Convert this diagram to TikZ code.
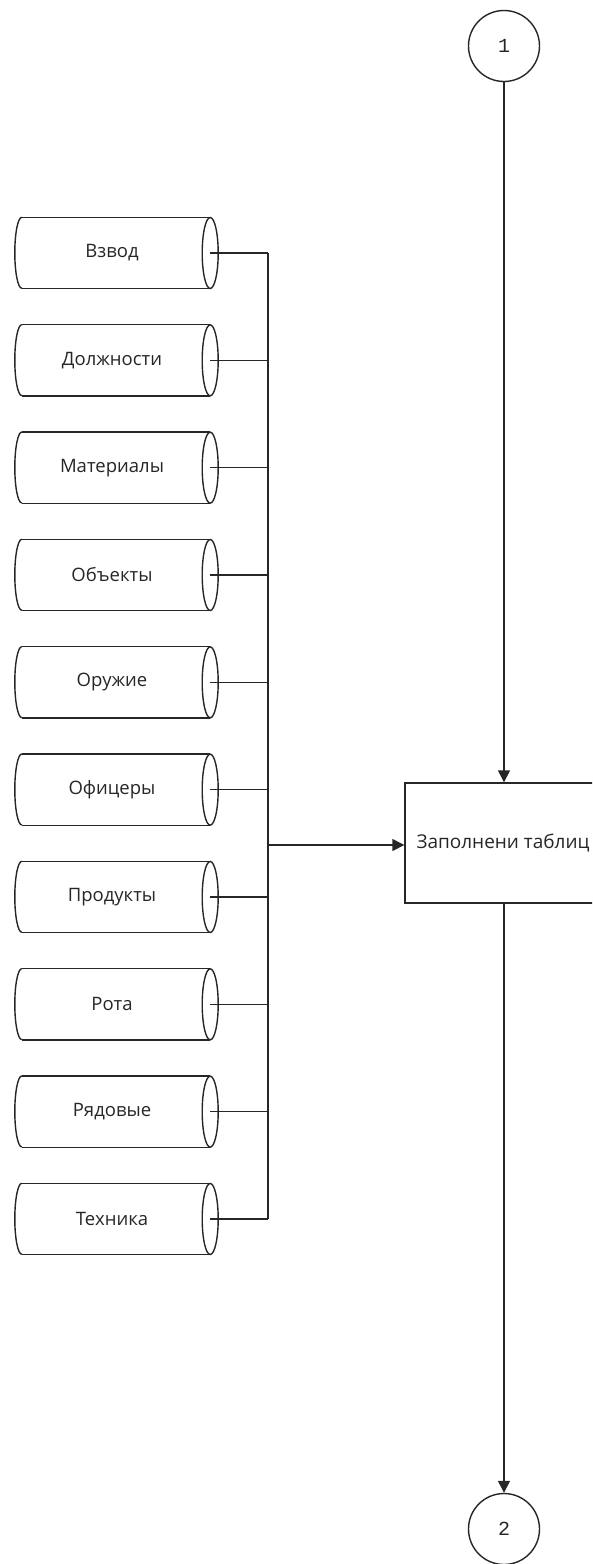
\documentclass[tikz,border=0pt]{standalone}
\usepackage{fontspec}
\setmainfont{Open Sans}
\newfontfamily\digitfont{Liberation Mono}
\usetikzlibrary{arrows.meta}
\begin{document}
\begin{tikzpicture}[x=1pt,y=-1pt,
  line/.style={draw=black!85,line width=1.4pt},
  flow/.style={line,-{Triangle[length=12pt,width=12pt]}},
  store/.style={minimum width=188pt,minimum height=71pt,inner sep=0pt,font=\fontsize{18.5}{22}\selectfont,text=black!85},
  procbox/.style={line,minimum width=195pt,minimum height=120pt,inner sep=0pt},
  conn/.style={line,circle,minimum size=71pt,inner sep=0pt,font=\digitfont\fontsize{20}{22}\selectfont,text=black!85}]
\useasboundingbox (0,0) rectangle (592,1564);
\clip (0,0) rectangle (592,1564);

% data stores
\foreach \i/\t [evaluate=\i as \y using 253+107.33*(\i-1)] in
  {1/Взвод,2/Должности,3/Материалы,4/Объекты,5/Оружие,6/Офицеры,7/Продукты,8/Рота,9/Рядовые,10/Техника}
  \node[store] (c\i) at (116,\y) {\hspace*{-8pt}\t};

\foreach \i in {1,...,10} {
  \draw[line] (c\i.north west) -- (c\i.north east) (c\i.south west) -- (c\i.south east);
  \draw[line] (c\i.north west) arc[start angle=90,end angle=270,x radius=7pt,y radius=35.5pt];
  \draw[line] (c\i.east) ellipse[x radius=8pt,y radius=35.5pt];
}

% process and connectors
\node[procbox] (box) at (502.5,843) {};
\node[anchor=west,font=\fontsize{19}{22}\selectfont,text=black!85,inner sep=0pt] (boxtext) at ([xshift=12pt]box.west) {Заполнени таблиц};
\node[conn] (k1) at (504,46) {1};
\node[conn] (k2) at (504,1529) {2};

\coordinate (bus) at (268,845);
\foreach \i in {1,...,10}
  \draw[line] (c\i.east) -- (c\i.east -| bus);
\draw[line] (c1.east -| bus) -- (c10.east -| bus);
\draw[flow] (bus) -- (box.west |- bus);
\draw[flow] (k1.south) -- (k1.south |- box.north);
\draw[flow] (k1.south |- box.south) -- (k2.north);
\end{tikzpicture}
\end{document}
